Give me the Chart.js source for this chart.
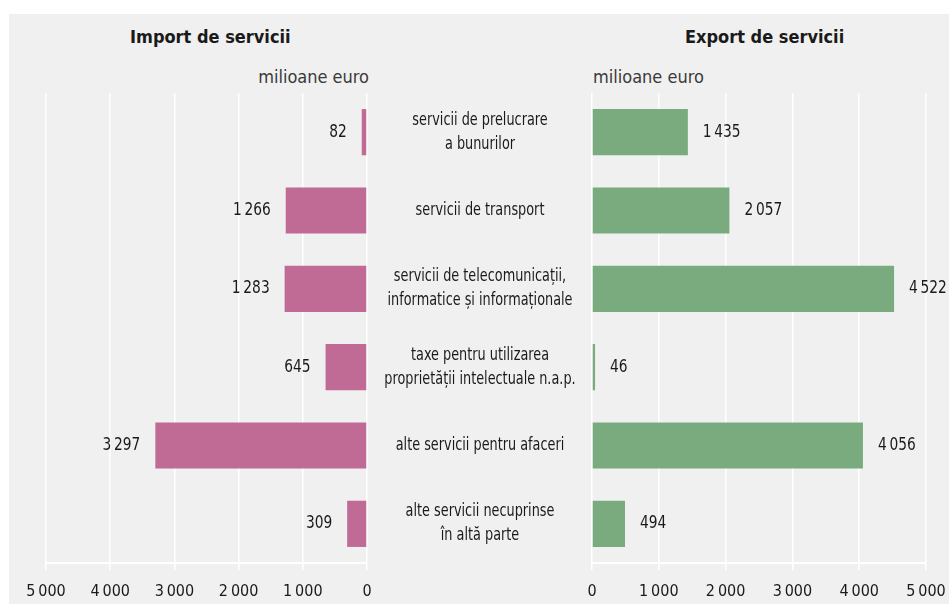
<!DOCTYPE html>
<html>
<head>
<meta charset="utf-8">
<script src="https://cdn.jsdelivr.net/npm/chart.js@4"></script>
<style>
  html, body { margin: 0; padding: 0; background: #fff; }
  #wrap { position: relative; width: 949px; height: 604px; overflow: hidden; }
  #bg { position: absolute; left: 9px; top: 14px; right: 0; bottom: 0; background: #f0f0f0; }
  .t { position: absolute; font-family: 'Liberation Sans Narrow', 'DejaVu Sans Condensed', sans-serif; color: #1a1a1a; white-space: nowrap; }
  .title { font-weight: bold; font-size: 18px; top: 26px; }
  .unit { font-size: 18px; color: #3a3a3a; top: 66px; }
  canvas { position: absolute; top: 0; }
</style>
</head>
<body>
<div id="wrap">
  <div id="bg"></div>
  <div class="t title" style="left:130px;">Import de servicii</div>
  <div class="t title" style="left:685px;">Export de servicii</div>
  <div class="t unit" style="right:580px;">milioane euro</div>
  <div class="t unit" style="left:593px;">milioane euro</div>
  <div style="position:absolute;left:0;top:0;width:380px;height:604px;"><canvas id="importChart"></canvas></div>
  <div style="position:absolute;left:370px;top:0;width:579px;height:604px;"><canvas id="exportChart"></canvas></div>
</div>
<script>
const categories = [
    ['servicii de prelucrare', 'a bunurilor'],
    ['servicii de transport'],
    ['servicii de telecomunicații,', 'informatice și informaționale'],
    ['taxe pentru utilizarea', 'proprietății intelectuale n.a.p.'],
    ['alte servicii pentru afaceri'],
    ['alte servicii necuprinse', 'în altă parte']
];
const importValues = [82, 1266, 1283, 645, 3297, 309];
const exportValues = [1435, 2057, 4522, 46, 4056, 494];
const axisMax = 5000;
const axisStep = 1000;

const FONT = "'Liberation Sans Narrow', 'DejaVu Sans Condensed', sans-serif";
const fmt = n => n.toString().replace(/\B(?=(\d{3})+(?!\d))/g, '\u2009');

// numbers next to bar ends
const valueLabels = {
    id: 'valueLabels',
    afterDatasetsDraw(chart, args, opts) {
        const c = chart.ctx;
        const meta = chart.getDatasetMeta(0);
        const sx = 0.9;
        c.save();
        c.font = '17px ' + FONT;
        c.fillStyle = '#1a1a1a';
        c.textBaseline = 'middle';
        meta.data.forEach((bar, i) => {
            const v = chart.data.datasets[0].data[i];
            c.save();
            if (opts.side === 'left') {
                c.translate(bar.x - 15, bar.y);
                c.scale(sx, 1);
                c.textAlign = 'right';
            } else {
                c.translate(bar.x + 15, bar.y);
                c.scale(sx, 1);
                c.textAlign = 'left';
            }
            c.fillText(fmt(v), 0, 0);
            c.restore();
        });
        c.restore();
    }
};

// category names in the middle column (squeezed a bit, the source font is condensed)
const middleLabels = {
    id: 'middleLabels',
    afterDatasetsDraw(chart, args, opts) {
        if (!opts.show) return;
        const c = chart.ctx;
        const y = chart.scales.y;
        const sx = 0.84;
        c.save();
        c.font = '17px ' + FONT;
        c.fillStyle = '#1a1a1a';
        c.textAlign = 'center';
        c.textBaseline = 'middle';
        c.translate(opts.x, 0);
        c.scale(sx, 1);
        categories.forEach((lines, i) => {
            const cy = y.getPixelForValue(i);
            const start = cy - (lines.length - 1) * 12;
            lines.forEach((l, j) => c.fillText(l, 0, start + j * 24));
        });
        c.restore();
    }
};

function makeOptions(reverse, pad) {
    return {
        indexAxis: 'y',
        responsive: true,
        maintainAspectRatio: false,
        animation: false,
        layout: { padding: pad },
        plugins: {
            legend: { display: false },
            tooltip: { enabled: false },
            valueLabels: { side: reverse ? 'left' : 'right' },
            middleLabels: { show: !reverse, x: 110 }
        },
        scales: {
            x: {
                reverse: reverse,
                min: 0,
                max: axisMax,
                afterFit: s => {
                    s.height = 41;
                    s.paddingLeft = 0;
                    s.paddingRight = 0;
                },
                ticks: {
                    stepSize: axisStep,
                    padding: 12,
                    maxRotation: 0,
                    color: '#1a1a1a',
                    font: { family: FONT, size: 16 },
                    callback: v => fmt(v)
                },
                grid: { color: '#ffffff', lineWidth: 1.5, tickLength: 7 },
                border: { display: true, color: '#ffffff', width: 2 }
            },
            y: {
                display: false,
                grid: { display: false }
            }
        }
    };
}

new Chart(document.getElementById('importChart'), {
    type: 'bar',
    data: {
        labels: categories,
        datasets: [{
            data: importValues,
            backgroundColor: '#c06b95',
            categoryPercentage: 1,
            barPercentage: 0.59
        }]
    },
    options: makeOptions(true, { left: 46, right: 13, top: 93, bottom: 0 }),
    plugins: [valueLabels]
});

new Chart(document.getElementById('exportChart'), {
    type: 'bar',
    data: {
        labels: categories,
        datasets: [{
            data: exportValues,
            backgroundColor: '#7aab7f',
            categoryPercentage: 1,
            barPercentage: 0.59
        }]
    },
    options: makeOptions(false, { left: 222, right: 23, top: 93, bottom: 0 }),
    plugins: [valueLabels, middleLabels]
});
</script>
</body>
</html>
